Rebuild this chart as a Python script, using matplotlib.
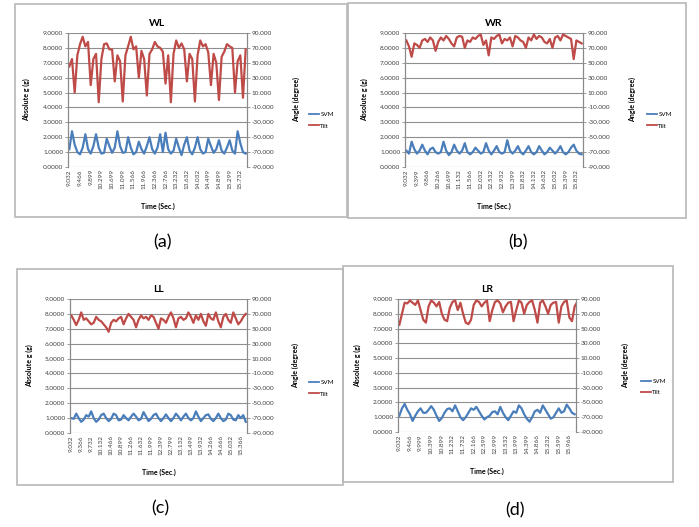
import matplotlib
matplotlib.use("Agg")
import matplotlib.pyplot as plt
import numpy as np
from matplotlib.patches import Rectangle
from matplotlib.lines import Line2D

plt.rcParams['font.family'] = ['Lato', 'DejaVu Sans']

W, H = 699, 527

# ---------------- data ----------------
titles = ["WL", "WR", "LL", "LR"]
captions = ["(a)", "(b)", "(c)", "(d)"]
series_names = ["SVM", "Tilt"]

labels_wl = ["9.032", "9.466", "9.899", "10.299", "10.699", "11.099", "11.566", "11.966",
             "12.366", "12.766", "13.232", "13.632", "14.032", "14.499", "14.899", "15.299", "15.732"]
labels_wr = ["9.032", "9.399", "9.866", "10.266", "10.699", "11.132", "11.566", "12.032",
             "12.532", "12.932", "13.399", "13.832", "14.132", "14.632", "15.032", "15.399", "15.832"]
labels_ll = ["9.032", "9.366", "9.732", "10.132", "10.466", "10.899", "11.266", "11.632", "11.999",
             "12.399", "12.799", "13.132", "13.499", "13.932", "14.266", "14.666", "15.032", "15.366"]
labels_lr = ["9.032", "9.466", "9.999", "10.399", "10.899", "11.232", "11.732", "12.166",
             "12.599", "12.999", "13.532", "13.999", "14.399", "14.866", "15.232", "15.599", "15.966"]

svm_wl = [1.2, 2.4, 1.5, 1.0, 0.85, 1.3, 2.2, 1.2, 0.9, 1.4, 2.2, 1.3, 0.9, 0.95, 1.9, 1.4,
          0.95, 1.3, 2.4, 1.4, 0.95, 1.0, 2.0, 1.3, 0.85, 1.0, 1.7, 1.2, 0.9, 1.4, 2.0, 1.2,
          0.9, 1.3, 2.2, 1.0, 2.3, 1.2, 0.9, 1.1, 1.9, 1.3, 0.8, 1.5, 2.0, 1.1, 0.85, 1.3,
          2.0, 1.2, 0.9, 1.0, 1.9, 1.4, 0.95, 1.2, 1.8, 1.1, 0.9, 1.3, 1.8, 1.1, 0.9, 2.4,
          1.6, 1.0, 0.9]
tilt_wl = [45, 55, 10, 60, 75, 85, 72, 78, 20, 55, 62, -3, 55, 75, 76, 68, 68, 25, 60, 52,
           -2, 60, 72, 85, 68, 72, 30, 66, 55, 6, 62, 68, 78, 72, 70, 65, 22, 60, -3, 62,
           80, 70, 76, 68, 25, 62, 55, -2, 60, 80, 72, 75, 64, 20, 62, 50, 0, 58, 65, 75,
           72, 70, 10, 52, 60, 3, 68]

svm_wr = [1.1, 0.9, 1.7, 1.2, 0.9, 1.1, 1.5, 1.1, 0.85, 1.2, 1.3, 1.0, 0.9, 1.0, 1.7, 1.1,
          0.8, 1.0, 1.5, 1.1, 0.9, 1.1, 1.6, 1.0, 0.85, 1.0, 1.3, 1.1, 0.9, 1.0, 1.6, 1.1,
          0.85, 1.1, 1.4, 1.0, 0.9, 1.0, 1.8, 1.1, 0.9, 1.1, 1.4, 1.0, 0.85, 1.1, 1.4, 1.0,
          0.85, 1.0, 1.4, 1.1, 0.85, 1.0, 1.3, 1.1, 0.9, 1.1, 1.4, 1.0, 0.85, 1.0, 1.3, 1.5,
          1.1, 0.9, 0.85]
tilt_wr = [80, 72, 58, 76, 74, 70, 80, 82, 78, 84, 80, 66, 78, 84, 80, 86, 82, 76, 72, 84,
           86, 85, 70, 80, 78, 84, 82, 86, 88, 74, 80, 60, 84, 82, 86, 88, 76, 82, 80, 84,
           72, 86, 84, 80, 78, 70, 84, 80, 88, 82, 86, 84, 78, 76, 82, 70, 84, 86, 80, 88,
           86, 84, 82, 55, 80, 78, 76]

svm_ll = [1.0, 0.95, 1.3, 1.0, 0.75, 0.9, 1.2, 1.1, 1.45, 1.0, 0.75, 0.9, 1.2, 1.3, 1.0, 0.8,
          0.95, 1.3, 1.2, 0.85, 0.9, 1.2, 1.0, 0.85, 1.1, 1.3, 1.1, 0.85, 0.95, 1.4, 1.1, 0.8,
          0.95, 1.2, 1.3, 1.0, 0.8, 1.0, 1.25, 1.0, 0.8, 1.0, 1.3, 1.1, 0.85, 1.1, 1.3, 1.0,
          0.85, 1.0, 1.45, 1.1, 0.8, 1.0, 1.2, 1.25, 0.95, 0.8, 1.0, 1.3, 1.0, 0.8, 0.9, 1.3,
          1.2, 0.9, 0.85, 1.2, 1.0, 1.2, 0.75]
tilt_ll = [68, 62, 55, 62, 72, 62, 64, 60, 56, 58, 66, 62, 60, 56, 52, 46, 58, 62, 60, 64,
           66, 56, 64, 70, 66, 62, 52, 62, 68, 64, 66, 62, 68, 66, 58, 50, 64, 62, 58, 66,
           72, 64, 52, 64, 66, 62, 64, 72, 66, 58, 68, 62, 70, 60, 54, 70, 64, 62, 72, 60,
           52, 66, 70, 62, 58, 72, 64, 56, 60, 66, 70]

svm_lr = [1.1, 1.6, 1.9, 1.5, 1.2, 0.75, 1.1, 1.4, 1.6, 1.3, 1.3, 1.5, 1.75, 1.5, 1.1, 0.75,
          0.95, 1.3, 1.55, 1.6, 1.4, 1.8, 1.4, 1.0, 0.8, 1.0, 1.3, 1.6, 1.5, 1.7, 1.4, 1.1,
          0.85, 1.0, 1.1, 1.35, 1.4, 1.2, 1.7, 1.3, 1.0, 0.8, 1.1, 1.4, 1.3, 1.8, 1.6, 1.2,
          0.9, 0.7, 1.0, 1.4, 1.5, 1.3, 1.8, 1.5, 1.2, 0.9, 1.0, 1.3, 1.6, 1.3, 1.4, 1.85,
          1.6, 1.3, 1.2]
tilt_lr = [55, 70, 85, 84, 88, 85, 82, 88, 75, 62, 58, 80, 88, 85, 80, 86, 70, 62, 60, 78,
           86, 88, 75, 85, 70, 58, 56, 62, 82, 88, 86, 80, 85, 88, 60, 75, 86, 88, 84, 72,
           80, 85, 86, 60, 75, 88, 85, 70, 82, 86, 88, 75, 58, 85, 88, 80, 70, 82, 85, 86,
           58, 80, 86, 88, 65, 60, 80, 86, 85]

all_labels = [labels_wl, labels_wr, labels_ll, labels_lr]
all_svm = [svm_wl, svm_wr, svm_ll, svm_lr]
all_tilt = [tilt_wl, tilt_wr, tilt_ll, tilt_lr]

# ---------------- layout (pixels) ----------------
frames = [(15, 4, 347, 217), (348, 3, 686, 218), (17, 269, 343, 485), (343, 266, 673, 482)]
plots = [(68, 33, 247, 167), (405, 33, 583, 167), (70, 299, 247, 433), (398, 299, 576, 432)]
legpos = [(306, 120), (644, 120), (306, 388), (638, 387)]
caps = [(163, 242), (518, 242), (160, 508), (515, 510)]

BLUE = "#4a7ebb"
RED = "#be4b48"
GRID = "#8f8f8f"

fig = plt.figure(figsize=(W / 100, H / 100), dpi=100)
fig.patch.set_facecolor("white")

def fx(px):
    return px / W

def fy(py):
    return 1 - py / H

for i in range(4):
    x0, y0, x1, y1 = frames[i]
    fig.patches.append(Rectangle((fx(x0), fy(y1)), fx(x1) - fx(x0), fy(y0) - fy(y1),
                                 transform=fig.transFigure, fill=False,
                                 edgecolor="#b8b8b8", lw=1.2))
    px0, py0, px1, py1 = plots[i]
    ax = fig.add_axes([fx(px0), fy(py1), fx(px1) - fx(px0), fy(py0) - fy(py1)])
    ax2 = ax.twinx()
    svm = all_svm[i]
    tilt = all_tilt[i]
    labs = all_labels[i]
    n = len(svm)
    x = np.arange(n)
    ax.plot(x, svm, color=BLUE, lw=1.6)
    ax2.plot(np.arange(len(tilt)), tilt, color=RED, lw=1.6)
    ax.set_ylim(0, 9)
    ax2.set_ylim(-90, 90)
    ax.set_xlim(-0.5, n - 0.5)
    ax.set_yticks(np.arange(0, 10, 1))
    ax.set_yticklabels(["%.4f" % v for v in np.arange(0, 10, 1)])
    ax2.set_yticks(np.arange(-90, 91, 20))
    ax2.set_yticklabels(["%.3f" % v for v in np.arange(-90, 91, 20)])
    ax.set_xticks(np.arange(len(labs)) * 4)
    ax.set_xticklabels(labs, rotation=90)
    ax.grid(axis="y", color=GRID, lw=0.8)
    ax.set_axisbelow(True)
    for a in (ax, ax2):
        a.spines["top"].set_visible(False)
        a.spines["bottom"].set_visible(False)
        a.spines["left"].set_color("#8a8a8a")
        a.spines["right"].set_color("#8a8a8a")
        a.spines["left"].set_linewidth(0.8)
        a.spines["right"].set_linewidth(0.8)
        a.tick_params(labelsize=4.6, colors="#8a8a8a", labelcolor="#404040",
                      length=2, width=0.6, pad=1.5)
    ax.tick_params(axis="x", length=0)
    ax.set_title(titles[i], fontsize=7.5, fontweight="bold", pad=5)
    ax.set_ylabel("Absolute g (g)", fontsize=5, fontweight="bold")
    ax.yaxis.set_label_coords(-0.21, 0.5)
    ax2.set_ylabel("Angle (degree)", fontsize=5, fontweight="bold")
    ax2.yaxis.set_label_coords(1.255, 0.5)
    ax.set_xlabel("Time (Sec.)", fontsize=5, fontweight="bold")
    ax.xaxis.set_label_coords(0.5, -0.27)
    handles = [Line2D([], [], color=BLUE, lw=1.3), Line2D([], [], color=RED, lw=1.3)]
    lx, ly = legpos[i]
    ax.legend(handles, series_names, loc="center left", bbox_to_anchor=(fx(lx), fy(ly)),
              bbox_transform=fig.transFigure, frameon=False, fontsize=4.5,
              handlelength=1.6, handletextpad=0.2, labelspacing=1.0, borderpad=0)
    cx, cy = caps[i]
    fig.text(fx(cx), fy(cy), captions[i], ha="center", va="center", fontsize=13)

fig.savefig("out.png", dpi=100)
